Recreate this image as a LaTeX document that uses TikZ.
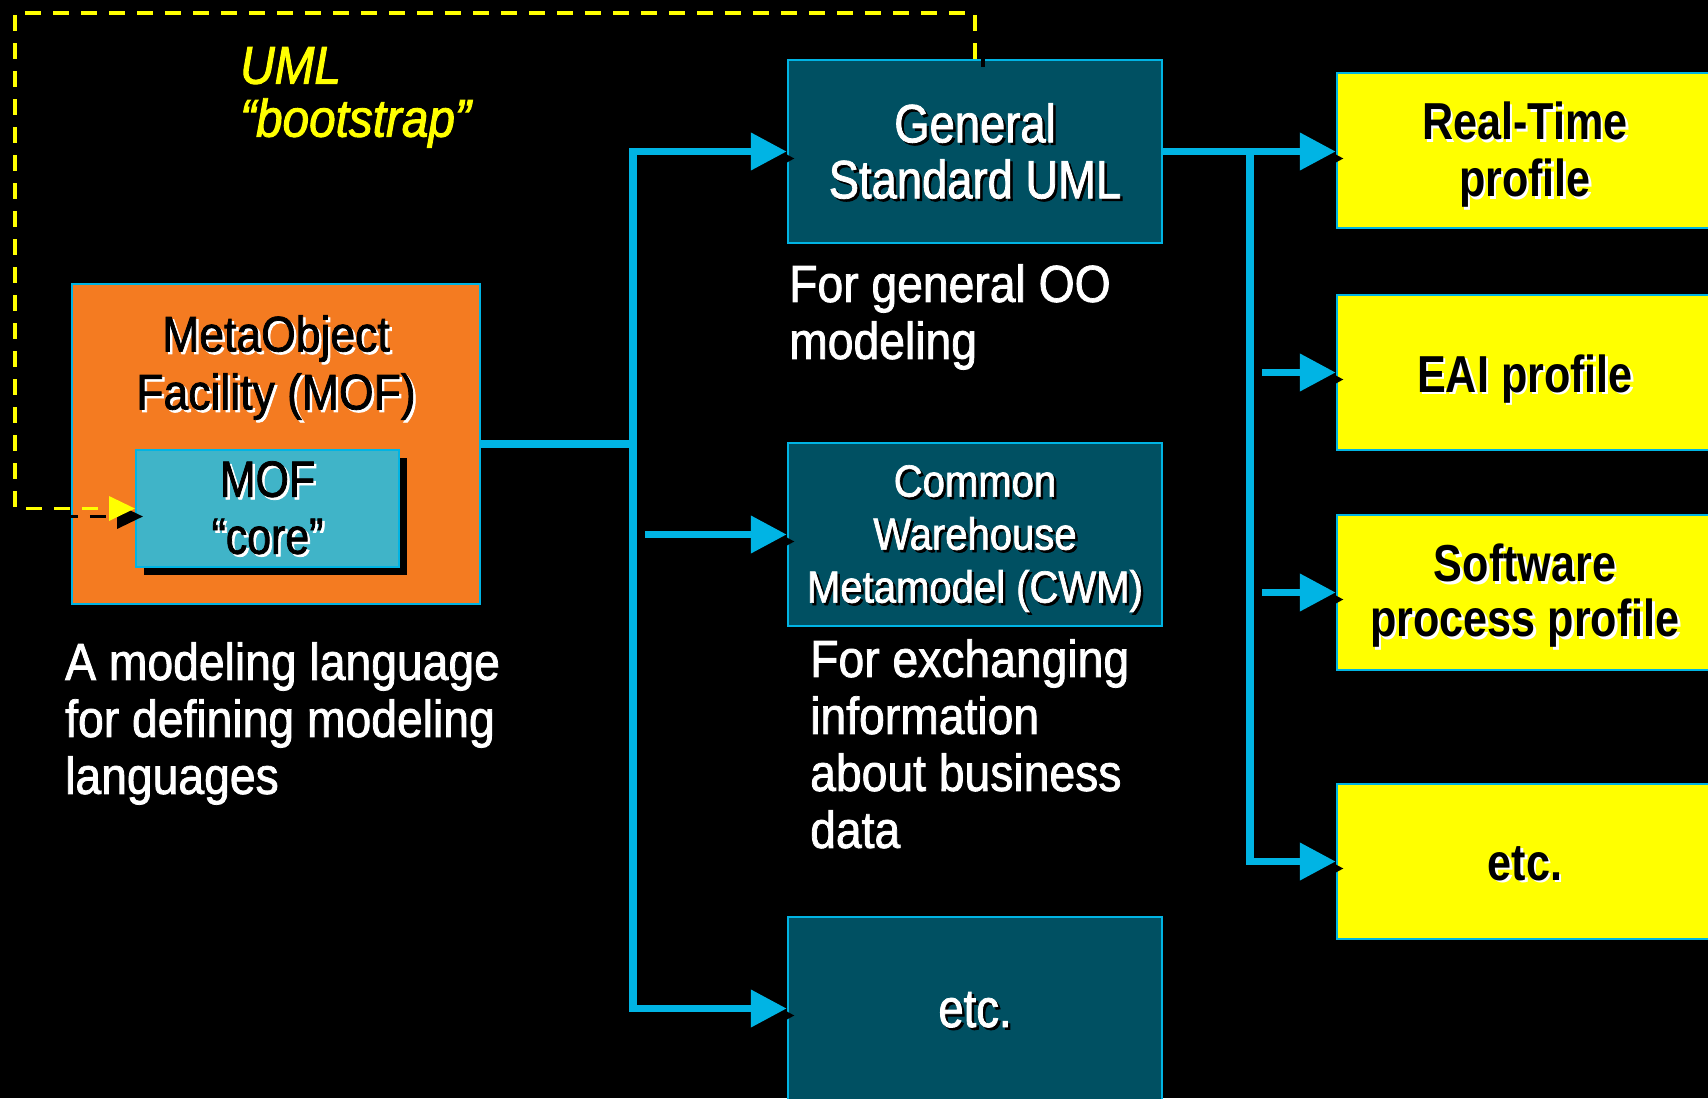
\documentclass[tikz,border=0pt]{standalone}
\usepackage{fontspec}
\setmainfont{Liberation Sans}
\newfontfamily\nA[FakeStretch=0.84,FakeBold=1.5]{Liberation Sans}
\newfontfamily\nB[FakeStretch=0.89,FakeBold=1.5]{Liberation Sans}
\newfontfamily\nY[FakeStretch=0.83]{Liberation Sans}
\newfontfamily\nI[FakeStretch=0.9,FakeBold=1.8]{Liberation Sans}
\usetikzlibrary{arrows.meta}
\definecolor{cyanl}{RGB}{0,180,228}
\definecolor{tealf}{RGB}{0,80,98}
\definecolor{orangef}{RGB}{244,123,33}
\definecolor{coref}{RGB}{64,180,200}
\definecolor{yel}{RGB}{255,255,0}
\newcommand\shd[2]{\makebox[0pt][l]{\kern2.5pt\raisebox{-2.5pt}{\color{#1}#2}}#2}
\begin{document}
\begin{tikzpicture}[x=1pt,y=-1pt,
  box/.style={draw=cyanl, line width=2.5pt, inner sep=0pt},
  tealbox/.style={box, fill=tealf, minimum width=374pt, minimum height=183pt},
  ybox/.style={box, fill=yel, minimum width=376pt, minimum height=155pt},
  conn/.style={draw=cyanl, line width=7.5pt},
  arr/.style={conn, -{Triangle[length=36pt,width=36pt]}},
  sharr/.style={draw=black, line width=7.5pt, -{Triangle[length=36pt,width=36pt]}, transform canvas={xshift=8pt,yshift=-7pt}},
  txt/.style={inner sep=0pt, align=center, anchor=north},
  btxt/.style={inner sep=0pt, anchor=base},
  dtxt/.style={inner sep=0pt, align=left, anchor=north west, text=white, font=\nB\fontsize{52}{57}\selectfont},
  ydash/.style={draw=yel, line width=3.5pt, dash pattern=on 16pt off 12pt, -{Triangle[length=26pt,width=24pt]}}
]
\useasboundingbox (0,0) rectangle (1708,1098);
\clip (0,0) rectangle (1708,1098);
\fill[black] (0,0) rectangle (1708,1098);

% boxes
\node[box, fill=orangef, minimum width=408pt, minimum height=320pt] (mof) at (276,444) {};
\fill[black] (144,458) rectangle (407,575);
\node[box, line width=2pt, fill=coref, minimum width=263pt, minimum height=117pt] (core) at (267.5,508.5) {};
\node[tealbox] (gen) at (975,151.5) {};
\node[tealbox] (cwm) at (975,534.5) {};
\node[tealbox] (tetc) at (975,1008.5) {};
\node[ybox] (rt) at (1525,150.5) {};
\node[ybox] (eai) at (1525,372.5) {};
\node[ybox] (sw) at (1525,592.5) {};
\node[ybox] (yetc) at (1525,861.5) {};

% box texts
\node[txt, text=black, font=\nB\fontsize{50}{58}\selectfont] (mofT) at (276,315) {\shd{white}{MetaObject}\\\shd{white}{Facility (MOF)}};
\node[txt, text=black, font=\nA\fontsize{51}{57}\selectfont] (coreT) at (267.5,461) {\shd{white}{MOF}\\\shd{white}{“core”}};
\node[txt, text=white, font=\nA\fontsize{54}{56}\selectfont] (genT) at (975,103) {\shd{black}{General}\\\shd{black}{Standard UML}};
\node[txt, text=white, font=\nB\fontsize{45}{53}\selectfont] (cwmT) at (975,465) {\shd{black}{Common}\\\shd{black}{Warehouse}\\\shd{black}{Metamodel (CWM)}};
\node[btxt, text=white, font=\nA\fontsize{54}{56}\selectfont] (tetcT) at (975,1027) {\shd{black}{etc.}};
\node[txt, text=black, font=\nY\bfseries\fontsize{52}{57}\selectfont] (rtT) at (1525,102) {\shd{white}{Real-Time}\\\shd{white}{profile}};
\node[btxt, text=black, font=\nY\bfseries\fontsize{52}{57}\selectfont] (eaiT) at (1525,392) {\shd{white}{EAI profile}};
\node[txt, text=black, font=\nY\bfseries\fontsize{52}{55}\selectfont] (swT) at (1525,544) {\shd{white}{Software}\\\shd{white}{process profile}};
\node[btxt, text=black, font=\nY\bfseries\fontsize{52}{57}\selectfont] (yetcT) at (1525,880) {\shd{white}{etc.}};

% descriptions
\node[dtxt] (genD) at (789,264) {For general OO\\modeling};
\node[dtxt] (cwmD) at (810,639) {For exchanging\\information\\about business\\data};
\node[dtxt] (mofD) at (65,642) {A modeling language\\for defining modeling\\languages};
\node[inner sep=0pt, anchor=north west, align=left, text=yel, font=\nI\itshape\fontsize{53}{53}\selectfont] (umlT) at (240,47) {UML\\“bootstrap”};

% connectors
\coordinate (t1) at (633,151.5);
\coordinate (t2) at (633,1008.5);
\coordinate (c0) at (645,534.5);
\coordinate (u1) at (1250,151.5);
\coordinate (u2) at (1250,861.5);
\coordinate (e0) at (1262,372.5);
\coordinate (s0) at (1262,592.5);

\draw[sharr] (t2) -- (t1) -- (gen.west);
\draw[sharr] (t1) -- (t2) -- (tetc.west);
\draw[sharr] (c0) -- (cwm.west);
\draw[sharr] (gen.east) -- (rt.west |- gen.east);
\draw[sharr] (u1) -- (u2) -- (yetc.west);
\draw[sharr] (e0) -- (eai.west);
\draw[sharr] (s0) -- (sw.west);

\draw[conn] (mof.east) -- (mof.east -| t1);
\draw[arr] (t2) -- (t1) -- (gen.west);
\draw[arr] (t1) -- (t2) -- (tetc.west);
\draw[arr] (c0) -- (cwm.west);
\draw[arr] (gen.east) -- (rt.west |- gen.east);
\draw[arr] (u1) -- (u2) -- (yetc.west);
\draw[arr] (e0) -- (eai.west);
\draw[arr] (s0) -- (sw.west);

% UML bootstrap dashed loop
\coordinate (b2) at (15,13);
\draw[ydash, draw=black, transform canvas={xshift=8pt,yshift=-8pt}] (gen.north) |- (b2) |- (core.west);
\draw[ydash] (gen.north) |- (b2) |- (core.west);
\end{tikzpicture}
\end{document}
